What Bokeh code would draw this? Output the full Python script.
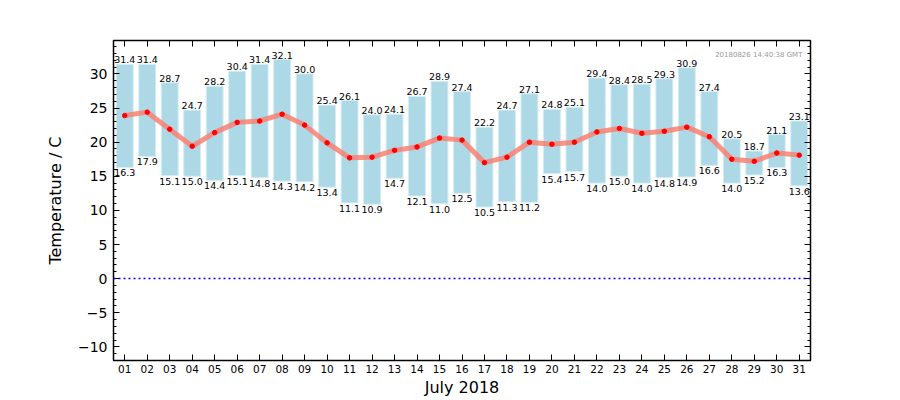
from bokeh.plotting import figure
from bokeh.models import (ColumnDataSource, FactorRange, Range1d, LinearAxis, CategoricalAxis,
                          SingleIntervalTicker, Span, Label, CustomJSTickFormatter)
from bokeh.core.properties import value
from bokeh.embed import file_html
from bokeh.resources import INLINE

days = ["%02d" % d for d in range(1, 32)]
t_max = [31.4, 31.4, 28.7, 24.7, 28.2, 30.4, 31.4, 32.1, 30.0, 25.4, 26.1, 24.0, 24.1, 26.7, 28.9, 27.4,
         22.2, 24.7, 27.1, 24.8, 25.1, 29.4, 28.4, 28.5, 29.3, 30.9, 27.4, 20.5, 18.7, 21.1, 23.1]
t_min = [16.3, 17.9, 15.1, 15.0, 14.4, 15.1, 14.8, 14.3, 14.2, 13.4, 11.1, 10.9, 14.7, 12.1, 11.0, 12.5,
         10.5, 11.3, 11.2, 15.4, 15.7, 14.0, 15.0, 14.0, 14.8, 14.9, 16.6, 14.0, 15.2, 16.3, 13.6]
t_mean = [23.9, 24.4, 21.9, 19.4, 21.4, 22.9, 23.1, 24.1, 22.5, 19.9, 17.7, 17.8, 18.8, 19.3, 20.6, 20.3,
          17.0, 17.8, 20.0, 19.7, 20.0, 21.5, 22.0, 21.3, 21.6, 22.2, 20.8, 17.5, 17.2, 18.4, 18.1]
timestamp = "20180826 14:40:38 GMT"

src = ColumnDataSource(dict(
    day=days, tmax=t_max, tmin=t_min, tmean=t_mean,
    lmax=["%.1f" % v for v in t_max], lmin=["%.1f" % v for v in t_min],
))

p = figure(width=900, height=400, x_range=FactorRange(*days, range_padding=0),
           y_range=Range1d(-12, 34.9), output_backend="svg", toolbar_location=None,
           min_border_left=113, min_border_right=90, min_border_top=40, min_border_bottom=40)
p.background_fill_color = "white"
p.border_fill_color = "white"
p.grid.visible = False
p.outline_line_color = "black"
p.outline_line_width = 1.5

p.vbar(x="day", bottom="tmin", top="tmax", width=0.75, source=src,
       fill_color="#add8e6", line_color="#d4ecf3", line_width=1)

p.add_layout(Span(location=0, dimension="width", line_color="blue", line_width=1.5, line_dash="2 3"))

p.line(x="day", y="tmean", source=src, line_color="#fa8072", line_alpha=0.85, line_width=5)
p.scatter(x="day", y="tmean", source=src, size=4.5, fill_color="red", line_color="red")

p.text(x="day", y="tmax", text="lmax", source=src, text_align="center", text_baseline="bottom",
       text_font=value("DejaVu Sans"), text_font_size="9.5px", text_color="black", y_offset=-1)
p.text(x="day", y="tmin", text="lmin", source=src, text_align="center", text_baseline="top",
       text_font=value("DejaVu Sans"), text_font_size="9.5px", text_color="black", y_offset=2)

# x in synthetic categorical coordinates (frame spans 0..31)
p.add_layout(Label(x=30.64, y=32.8, text=timestamp,
                   text_align="right", text_baseline="middle", text_font="DejaVu Sans",
                   text_font_size="7px", text_color="#999999"))

# Left y axis
ya = p.yaxis[0]
ya.ticker = SingleIntervalTicker(interval=5, num_minor_ticks=5)
ya.major_label_overrides = {-5: "\u22125", -10: "\u221210"}
ya.axis_label = "Temperature / C"
ya.axis_label_text_font = "DejaVu Sans"
ya.axis_label_text_font_size = "16px"
ya.axis_label_text_font_style = "normal"
ya.axis_label_text_color = "black"
ya.major_label_text_font = "DejaVu Sans"
ya.major_label_text_font_size = "14px"
ya.major_label_text_color = "black"
ya.major_tick_in = 6
ya.major_tick_out = 0
ya.minor_tick_in = 3
ya.minor_tick_out = 0
ya.axis_line_color = None
ya.major_label_standoff = 6
ya.axis_label_standoff = 10

# Bottom x axis
xa = p.xaxis[0]
xa.axis_label = "July 2018"
xa.axis_label_text_font = "DejaVu Sans"
xa.axis_label_text_font_size = "16px"
xa.axis_label_text_font_style = "normal"
xa.axis_label_text_color = "black"
xa.major_label_text_font = "DejaVu Sans"
xa.major_label_text_font_size = "10.5px"
xa.major_label_text_color = "black"
xa.major_tick_in = 6
xa.major_tick_out = 0
xa.axis_line_color = None
xa.major_label_standoff = 4
xa.axis_label_standoff = 2

blank = CustomJSTickFormatter(code="return ''")

# Right axis (ticks only)
ra = LinearAxis(ticker=SingleIntervalTicker(interval=5, num_minor_ticks=5), formatter=blank)
ra.major_tick_in = 6
ra.major_tick_out = 0
ra.minor_tick_in = 3
ra.minor_tick_out = 0
ra.axis_line_color = None
p.add_layout(ra, "right")

# Top axis (ticks only)
ta = CategoricalAxis()
ta.major_label_text_font_size = "1px"
ta.major_label_text_alpha = 0
ta.major_tick_in = 6
ta.major_tick_out = 0
ta.axis_line_color = None
p.add_layout(ta, "above")

open("out.html", "w").write(file_html(p, INLINE))
